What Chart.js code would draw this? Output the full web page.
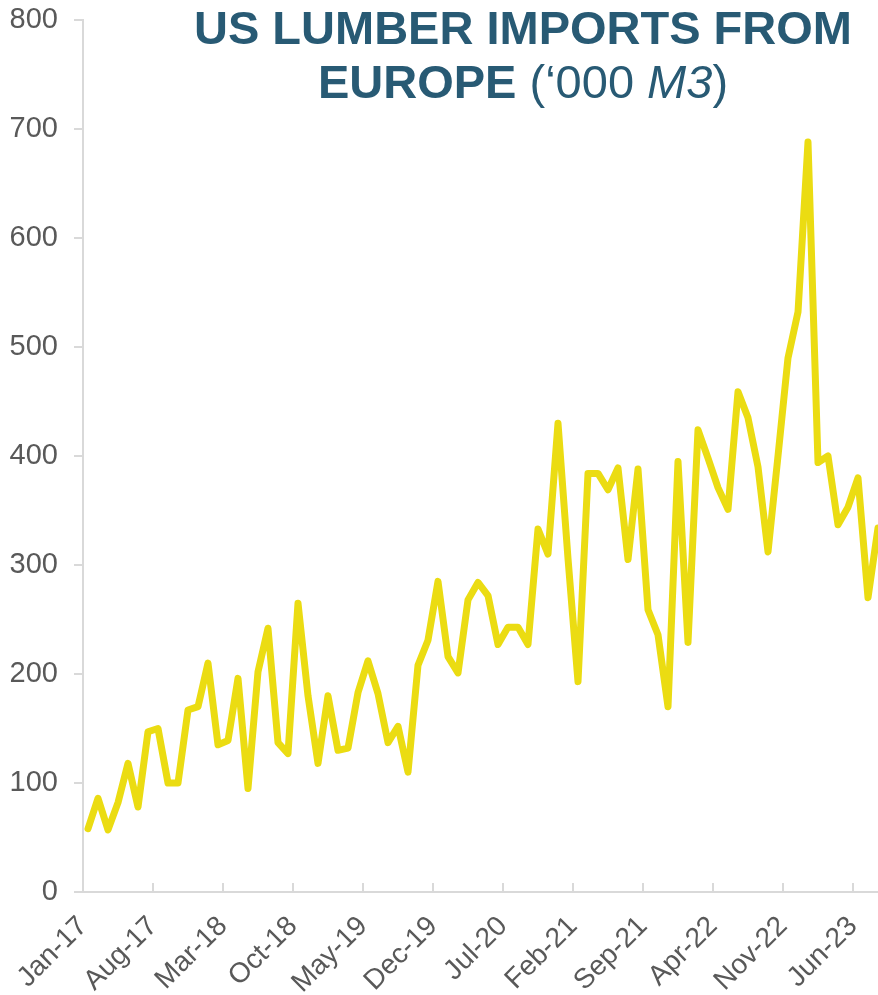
<!DOCTYPE html>
<html lang="en">
<head>
  <meta charset="UTF-8">
  <title>US Lumber Imports from Europe</title>
  <script src="https://cdn.jsdelivr.net/npm/chart.js@4.4.0/dist/chart.umd.min.js"></script>
  <style>
    body { margin: 0; background: #fff; }
    #wrap { position: relative; width: 878px; height: 995px; }
    #title {
      position: absolute; left: 173px; top: 1px; width: 700px;
      text-align: center; color: #285a74;
      font-family: "Liberation Sans", Arial, sans-serif;
      font-size: 47px; line-height: 54px;
    }
    #title b { font-weight: bold; }
  </style>
</head>
<body>
  <div id="wrap">
    <canvas id="myChart" width="878" height="995"></canvas>
    <div id="title"><b>US LUMBER IMPORTS FROM</b><br><b>EUROPE</b> (‘000 <i>M3</i>)</div>
  </div>
  <script>
    // monthly labels Jan-17 .. Aug-23
    const monthNames = ['Jan', 'Feb', 'Mar', 'Apr', 'May', 'Jun', 'Jul', 'Aug', 'Sep', 'Oct', 'Nov', 'Dec'];
    const years = ['17', '18', '19', '20', '21', '22', '23'];
    const months = [];
    years.forEach(y => monthNames.forEach(m => months.push(m + '-' + y)));
    months.length = 80;

    // '000 m3
    const imports = [
      58, 86, 57, 82, 118, 78, 147, 150, 100, 100, 167, 170,
      210, 135, 139, 196, 95, 202, 242, 137, 127, 265, 180, 118,
      180, 130, 132, 183, 212, 182, 137, 152, 110, 208, 231, 285,
      216, 201, 268, 284, 272, 227, 243, 243, 227, 333, 310, 430,
      306, 193, 384, 384, 369, 389, 305, 388, 259, 236, 170, 395,
      229, 424, 398, 371, 351, 459, 435, 390, 312, 400, 490, 532,
      688, 394, 400, 337, 353, 380, 270, 334
    ];

    // a tick every 7 months, on the left edge of the month
    const tickMonths = [0, 7, 14, 21, 28, 35, 42, 49, 56, 63, 70, 77];

    const axisGrey = '#d9d9d9';
    const textGrey = '#595959';
    const family = '"Liberation Sans", Arial, sans-serif';

    const ctx = document.getElementById('myChart').getContext('2d');
    const myChart = new Chart(ctx, {
      type: 'line',
      data: {
        datasets: [{
          label: 'Imports',
          data: imports.map((v, i) => ({ x: i, y: v })),
          borderColor: '#ebdc12',
          borderWidth: 7,
          borderJoinStyle: 'round',
          borderCapStyle: 'round',
          pointRadius: 0,
          fill: false,
          tension: 0
        }]
      },
      options: {
        responsive: false,
        animation: false,
        layout: { padding: { top: 20, right: 0, left: 0, bottom: 0 } },
        plugins: { legend: { display: false }, tooltip: { enabled: false } },
        scales: {
          x: {
            type: 'linear',
            min: -0.5,
            max: 79,
            afterBuildTicks: (axis) => {
              axis.ticks = tickMonths.map(m => ({ value: m - 0.5 }));
            },
            afterFit: (s) => { s.height = 103; s.paddingLeft = 0; s.paddingRight = 0; },
            grid: { drawOnChartArea: false, tickLength: -9, color: axisGrey, lineWidth: 2 },
            border: { color: axisGrey, width: 2 },
            ticks: {
              autoSkip: false,
              minRotation: 45,
              maxRotation: 45,
              padding: 27,
              color: textGrey,
              font: { family: family, size: 28 },
              callback: (v) => months[Math.round(v + 0.5)]
            }
          },
          y: {
            min: 0,
            max: 800,
            afterFit: (s) => { s.width = 83; s.paddingTop = 0; s.paddingBottom = 0; },
            grid: { drawOnChartArea: false, tickLength: 9, color: axisGrey, lineWidth: 2 },
            border: { color: axisGrey, width: 2 },
            ticks: { stepSize: 100, padding: 16, color: textGrey, font: { family: family, size: 29 } }
          }
        }
      }
    });
  </script>
</body>
</html>
